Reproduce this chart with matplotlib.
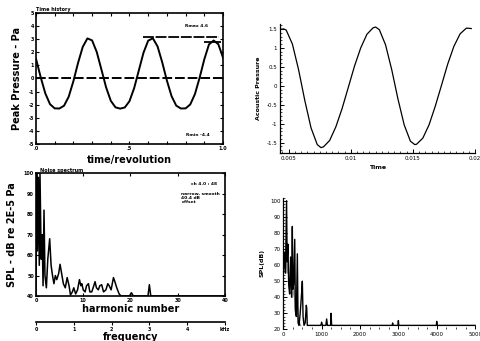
import matplotlib
matplotlib.use("Agg")
import matplotlib.pyplot as plt
from matplotlib.ticker import MultipleLocator

# time history (top left)
tl_t = [0, 0.025, 0.05, 0.075, 0.1, 0.125, 0.15, 0.175, 0.2, 0.225, 0.25, 0.275, 0.3,
        0.325, 0.35, 0.375, 0.4, 0.425, 0.45, 0.475, 0.5, 0.525, 0.55, 0.575, 0.6,
        0.625, 0.65, 0.675, 0.7, 0.725, 0.75, 0.775, 0.8, 0.825, 0.85, 0.875, 0.9,
        0.925, 0.95, 0.975, 1.0]
tl_p = [1.51, 0.11, -1.14, -1.96, -2.28, -2.29, -2.08, -1.39, -0.21, 1.19, 2.41, 3.06, 2.91,
        2.02, 0.68, -0.68, -1.70, -2.20, -2.30, -2.21, -1.73, -0.73, 0.62, 1.97, 2.89,
        3.07, 2.45, 1.24, -0.16, -1.35, -2.07, -2.29, -2.28, -1.98, -1.19, 0.06, 1.46,
        2.60, 2.90, 2.62, 1.60]
tl_yticks = [-5, -4, -3, -2, -1, 0, 1, 2, 3, 4, 5]
tl_xticks = [0, 0.5, 1.0]
tl_xlabels = ['.0', '.5', '1.0']

# acoustic pressure (top right)
tr_t = [0.0043, 0.0046, 0.0048, 0.0053, 0.0058, 0.0063, 0.0068, 0.0073, 0.0076, 0.0078,
        0.0083, 0.0088, 0.0093, 0.0098, 0.0103, 0.0108, 0.0113, 0.0118, 0.0120, 0.0123,
        0.0128, 0.0133, 0.0138, 0.0143, 0.0148, 0.01515, 0.0153, 0.0158, 0.0163, 0.0168,
        0.0173, 0.0178, 0.0183, 0.0188, 0.0193, 0.0194, 0.0197]
tr_p = [1.49, 1.50, 1.47, 1.10, 0.42, -0.39, -1.11, -1.55, -1.63, -1.61,
        -1.44, -1.08, -0.60, -0.04, 0.52, 1.00, 1.36, 1.53, 1.55, 1.48,
        1.08, 0.42, -0.35, -1.03, -1.46, -1.55, -1.54, -1.38, -1.03, -0.54,
        0.01, 0.57, 1.04, 1.37, 1.52, 1.52, 1.51]
tr_yticks = [-1.5, -1, -0.5, 0, 0.5, 1, 1.5]
tr_ylabels = ['-1.5', '-1', '-0.5', '0', '0.5', '1', '1.5']
tr_xticks = [0.005, 0.01, 0.015, 0.02]
tr_xlabels = ['0.005', '0.01', '0.015', '0.02']

# noise spectrum (bottom left)
bl_h = [0, 0.15, 0.3, 0.5, 0.7, 0.85, 1.1, 1.3, 1.5, 1.7, 1.9, 2.2, 2.5, 2.9, 3.2, 3.5, 3.8,
        4.1, 4.4, 4.8, 5.1, 5.5, 5.8, 6.2, 6.6, 7.0, 7.3, 7.7, 8.0, 8.4, 8.8, 9.2, 9.5, 9.7,
        10.0, 10.4, 10.7, 11.1, 11.4, 11.8, 12.1, 12.5, 12.8, 13.2, 13.5, 13.9, 14.3, 14.8,
        15.2, 15.5, 15.9, 16.4, 16.7, 17.1, 17.6, 18.0, 19.8, 20.2, 20.6, 23.7, 24.0, 24.3, 40]
bl_db = [40, 100, 62, 98, 55, 100, 58, 70, 45, 82, 50, 44, 58, 68, 55, 50, 46,
         50, 48, 51, 55.5, 50, 46, 44, 49, 45, 40.5, 42, 44, 41, 43, 48, 45, 46,
         43, 42, 45, 46, 42, 42, 44, 47, 44, 43, 45, 45.5, 42, 43,
         46, 45, 43, 49, 47, 44, 41, 40, 40, 41.6, 40, 40, 45.5, 40, 40]
bl_yticks = [40, 50, 60, 70, 80, 90, 100]
bl_xticks = [0, 10, 20, 30, 40]
bl_fticks = [0, 1, 2, 3, 4, 5]
bl_flabels = ['0', '1', '2', '3', '4', 'kHz']

# SPL spectrum (bottom right)
br_f = [0, 30, 55, 85, 100, 120, 140, 165, 190, 215, 235, 250, 270, 298, 315, 340, 366, 385,
        410, 440, 470, 496, 515, 540, 570, 600, 611, 625, 660, 980, 1000, 1020, 1110, 1130,
        1150, 1235, 1245, 1260, 2840, 2850, 2860, 2990, 3000, 3010, 3990, 4000, 4010, 5000]
br_db = [57, 68, 55, 100, 62, 73, 48, 42, 65, 40, 84, 45, 48, 76, 32, 28, 67, 24,
         22.5, 30, 40, 50, 28, 22.5, 24, 35, 33, 22.5, 22.5, 22.5, 24.5, 22.5, 22.5, 26.5,
         22.5, 22.5, 30, 22.5, 22.5, 24, 22.5, 22.5, 25.5, 22.5, 22.5, 25, 22.5, 22.5]
br_gray_f = [0, 40, 70, 100, 130, 160, 200, 240, 280, 320, 360, 400, 450]
br_gray_db = [70, 60, 66, 55, 62, 45, 50, 40, 46, 30, 36, 25, 22.5]
br_yticks = [20, 30, 40, 50, 60, 70, 80, 90, 100]
br_xticks = [0, 1000, 2000, 3000, 4000, 5000]

fig = plt.figure(figsize=(4.81, 3.41), dpi=100)
fig.patch.set_facecolor('white')

# --- top left
ax = fig.add_axes([0.0748, 0.5777, 0.3888, 0.3842])
ax.plot(tl_t, tl_p, color='black', lw=1.4)
ax.axhline(0, color='black', lw=1.4, dashes=(5, 1.5))
ax.hlines(3.14, 0.57, 0.98, color='black', lw=1.3, linestyles=(0, (6, 1)))
ax.hlines(2.8, 0.90, 0.99, color='black', lw=1.3)
ax.set_xlim(0, 1.0)
ax.set_ylim(-5, 5)
ax.set_yticks(tl_yticks)
ax.set_yticklabels([str(v) for v in tl_yticks], fontsize=3.5, fontweight='bold')
ax.set_xticks(tl_xticks)
ax.set_xticklabels(tl_xlabels, fontsize=3.5, fontweight='bold')
ax.xaxis.set_minor_locator(MultipleLocator(0.1))
ax.tick_params(which='both', direction='in', top=True, right=True, length=2, width=0.8, pad=1.5)
for s in ax.spines.values():
    s.set_linewidth(1.2)
ax.set_ylabel('Peak Pressure - Pa', fontsize=7, fontweight='bold', labelpad=5)
ax.set_xlabel('time/revolution', fontsize=7, fontweight='bold', labelpad=3)
ax.text(0.0, 1.01, 'Time history', transform=ax.transAxes, fontsize=3.5, fontweight='bold',
        va='bottom')
ax.text(0.92, 0.89, 'Rmax 4.6', transform=ax.transAxes, fontsize=3.2, fontweight='bold',
        ha='right')
ax.text(0.93, 0.06, 'Rmin -4.4', transform=ax.transAxes, fontsize=3.2, fontweight='bold',
        ha='right')

# --- top right
ax = fig.add_axes([0.5821, 0.5504, 0.4054, 0.3792])
ax.plot(tr_t, tr_p, color='black', lw=0.9)
ax.set_xlim(0.0043, 0.0200)
ax.set_ylim(-1.78, 1.63)
ax.set_yticks(tr_yticks)
ax.set_yticklabels(tr_ylabels, fontsize=4)
ax.set_xticks(tr_xticks)
ax.set_xticklabels(tr_xlabels, fontsize=4)
ax.xaxis.set_minor_locator(MultipleLocator(0.0005))
ax.yaxis.set_minor_locator(MultipleLocator(0.1))
ax.tick_params(which='major', direction='in', length=3, width=0.7, pad=2)
ax.tick_params(which='minor', direction='in', length=1.5, width=0.5)
ax.spines['top'].set_visible(False)
ax.spines['right'].set_visible(False)
for s in ('left', 'bottom'):
    ax.spines[s].set_linewidth(0.9)
ax.set_ylabel('Acoustic Pressure', fontsize=4.5, fontweight='bold', labelpad=4)
ax.set_xlabel('Time', fontsize=4.5, fontweight='bold', labelpad=3)

# --- bottom left
ax = fig.add_axes([0.0748, 0.1320, 0.3929, 0.3598])
ax.plot(bl_h, bl_db, color='black', lw=1.1)
ax.set_xlim(0, 40)
ax.set_ylim(40, 100)
ax.set_yticks(bl_yticks)
ax.set_yticklabels([str(v) for v in bl_yticks], fontsize=3.5, fontweight='bold')
ax.set_xticks(bl_xticks)
ax.set_xticklabels([str(v) for v in bl_xticks], fontsize=3.5, fontweight='bold')
ax.tick_params(which='both', direction='in', top=True, right=True, length=2, width=0.8, pad=1.5)
for s in ax.spines.values():
    s.set_linewidth(1.2)
ax.set_ylabel('SPL - dB re 2E-5 Pa', fontsize=7, fontweight='bold', labelpad=5)
ax.set_xlabel('harmonic number', fontsize=7, fontweight='bold', labelpad=1)
ax.text(0.02, 1.005, 'Noise spectrum', transform=ax.transAxes, fontsize=3.5,
        fontweight='bold', va='bottom')
ax.text(0.96, 0.93, 'ch 4.0 : 48', transform=ax.transAxes, fontsize=3.2,
        fontweight='bold', ha='right', va='top')
ax.text(0.77, 0.85, 'narrow, smooth\n40.4 dB\noffset', transform=ax.transAxes,
        fontsize=3.2, fontweight='bold', ha='left', va='top', linespacing=1.0)
sec = ax.secondary_xaxis(-0.21, functions=(lambda h: h / 8.0, lambda f: f * 8.0))
sec.set_xticks(bl_fticks)
sec.set_xticklabels(bl_flabels, fontsize=3.5, fontweight='bold')
sec.tick_params(length=2, width=0.8, pad=1.5)
sec.spines['bottom'].set_linewidth(1.2)
sec.set_xlabel('frequency', fontsize=7, fontweight='bold', labelpad=0.5)

# --- bottom right
ax = fig.add_axes([0.589, 0.034, 0.4027, 0.3868])
ax.plot(br_gray_f, br_gray_db, color='#9a9a9a', lw=1.0)
ax.plot(br_f, br_db, color='black', lw=1.0)
ax.set_xlim(0, 5050)
ax.set_ylim(20, 102)
ax.set_yticks(br_yticks)
ax.set_yticklabels([str(v) for v in br_yticks], fontsize=4)
ax.set_xticks(br_xticks)
ax.set_xticklabels([str(v) for v in br_xticks], fontsize=4)
ax.xaxis.set_minor_locator(MultipleLocator(250))
ax.yaxis.set_minor_locator(MultipleLocator(2))
ax.tick_params(which='major', direction='in', length=3, width=0.7, pad=2)
ax.tick_params(which='minor', direction='in', length=1.5, width=0.5)
ax.spines['top'].set_visible(False)
ax.spines['right'].set_visible(False)
ax.spines['bottom'].set_visible(False)
ax.spines['left'].set_linewidth(0.9)
ax.set_ylabel('SPL(dB)', fontsize=4.5, fontweight='bold', labelpad=4)

fig.savefig('out.png', dpi=100)
